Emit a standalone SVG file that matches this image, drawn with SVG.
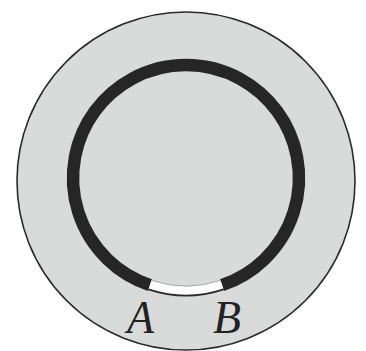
<svg xmlns="http://www.w3.org/2000/svg" width="366" height="351" viewBox="0 0 366 351">
<style>
.lbl{font-family:"Liberation Serif","Times New Roman",serif;font-style:italic;font-size:47px;fill:#222}
</style>
<rect width="366" height="351" fill="#ffffff"/>
<g id="disk">
<circle cx="186" cy="181" r="169" fill="#d9dbda" stroke="#2a2a2a" stroke-width="1.6"/>
</g>
<g id="ring">
<path d="M150,285.1 A113,113 0 1 1 222,285.1" fill="none" stroke="#262626" stroke-width="12.5"/>
</g>
<g id="gap">
<path d="M150.1,284.6 A112.5,112.5 0 0 0 221.9,284.6" fill="none" stroke="#ffffff" stroke-width="9"/>
<path d="M148.5,289.4 A117.5,117.5 0 0 0 223.5,289.4" fill="none" stroke="#2a2a2a" stroke-width="1.8"/>
<path d="M151.5,280.4 A108,108 0 0 0 220.5,280.4" fill="none" stroke="#8a8a8a" stroke-width="0.7"/>
</g>
<g id="labels">
<text class="lbl" x="127" y="333" textLength="27" lengthAdjust="spacingAndGlyphs">A</text>
<text class="lbl" x="213" y="333" textLength="28" lengthAdjust="spacingAndGlyphs">B</text>
</g>
</svg>
